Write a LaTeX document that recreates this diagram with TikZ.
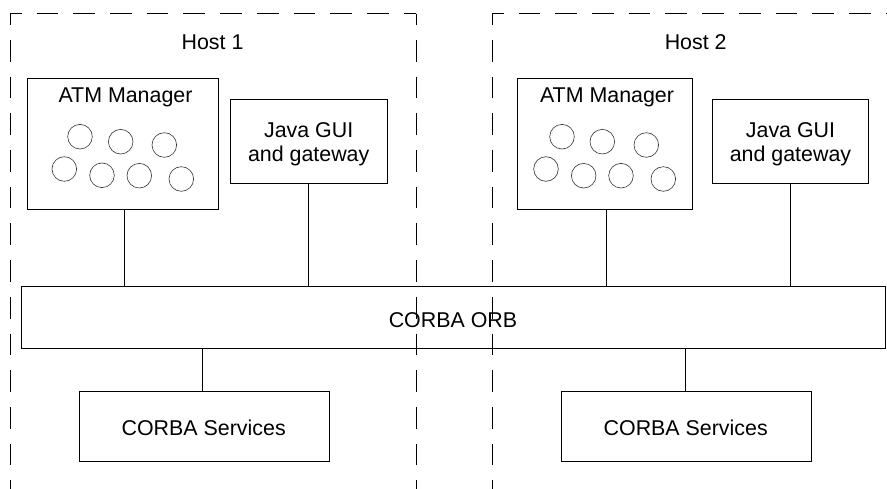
\documentclass[tikz,border=0pt]{standalone}
\usepackage{fontspec}
\setmainfont{Liberation Sans}
\begin{document}
\begin{tikzpicture}[x=1pt,y=-1pt,
  every node/.style={font=\fontsize{21.4}{24.4}\selectfont},
  box/.style={draw, line width=1pt, rectangle, inner sep=0pt},
  lbl/.style={anchor=base, inner sep=0pt, align=center},
  host/.style={draw, line width=0.9pt, dash pattern=on 21.7pt off 15pt, dash phase=10.4pt},
  link/.style={draw, line width=1pt},
  obj/.style={draw=black!80, line width=0.6pt, circle, inner sep=0pt, minimum size=24.6pt}]
\useasboundingbox (0,0) rectangle (887,489);
\clip (0,0) rectangle (887,489);

% host boundaries (open below and, for the second host, to the right)
\coordinate (h1) at (10.3,13.7);
\coordinate (h1r) at (416,13.7);
\coordinate (h2) at (492.3,13.7);
\draw[host] (h1) -- (h1 |- 0,510);
\draw[host] (h1) -- (h1r);
\draw[host] (h1r) -- (h1r |- 0,510);
\draw[host] (h2) -- (h2 |- 0,510);
\draw[host] (h2) -- (910,13.7);

\node[lbl] (host1) at (212.5,49.3) {Host 1};
\node[lbl] (host2) at (695.7,49.3) {Host 2};

% boxes
\node[box, minimum width=191pt, minimum height=131pt] (atmA) at (122.5,144.5) {};
\node[box, minimum width=157pt, minimum height=84pt] (javaA) at (308.5,142) {};
\node[box, minimum width=864.3pt, minimum height=62pt] (orb) at (453.2,317.3) {};
\node[box, minimum width=250.4pt, minimum height=70pt] (svcA) at (204.5,426.3) {};
\node[box, minimum width=175pt, minimum height=131pt] (atmB) at (604.8,144.5) {};
\node[box, minimum width=156pt, minimum height=84pt] (javaB) at (790.3,142) {};
\node[box, minimum width=250pt, minimum height=70pt] (svcB) at (686.3,426.3) {};

% labels (the two-line labels sit on the baseline of their last line)
\node[lbl] (atmAt) at (125.5,102.3) {ATM Manager};
\node[lbl] (atmBt) at (607,102.3) {ATM Manager};
\node[lbl] (javaAt) at (308.7,161.7) {Java GUI\\and gateway};
\node[lbl] (javaBt) at (790.5,161.7) {Java GUI\\and gateway};
\node[lbl] (orbt) at (453,327) {CORBA ORB};
\node[lbl] (svcAt) at (203.7,435.3) {CORBA Services};
\node[lbl] (svcBt) at (685.7,435.3) {CORBA Services};

% objects inside the managers
\foreach \n/\x/\y in {a1/80/136.7, a2/120.7/141.7, a3/164.3/145, a4/64.3/169,
                      a5/102/175.3, a6/139.3/175.7, a7/181.3/179,
                      b1/562/136.7, b2/602.3/141.7, b3/646.3/145, b4/546/169,
                      b5/583.7/175.7, b6/621/175.7, b7/663.3/179}
  \node[obj] (o\n) at (\x,\y) {};

% connections to the ORB
\draw[link] ([xshift=1.8pt]atmA.south) -- ([xshift=1.8pt]atmA.south |- orb.north);
\draw[link] ([xshift=-0.2pt]javaA.south) -- ([xshift=-0.2pt]javaA.south |- orb.north);
\draw[link] ([xshift=1.5pt]atmB.south) -- ([xshift=1.5pt]atmB.south |- orb.north);
\draw[link] (javaB.south) -- (javaB.south |- orb.north);
\draw[link] ([xshift=-2.2pt]svcA.north) -- ([xshift=-2.2pt]svcA.north |- orb.south);
\draw[link] ([xshift=-1.3pt]svcB.north) -- ([xshift=-1.3pt]svcB.north |- orb.south);
\end{tikzpicture}
\end{document}
